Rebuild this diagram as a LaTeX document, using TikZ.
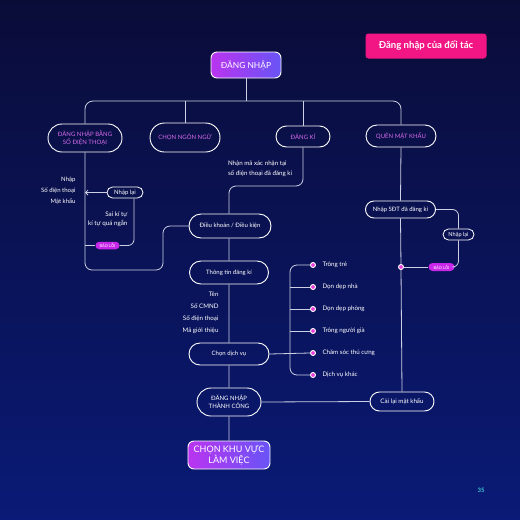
\documentclass[tikz,border=0pt]{standalone}
\usepackage{fontspec}
\setmainfont{Lato}
\usetikzlibrary{positioning,arrows.meta,shapes.misc}
\definecolor{bgtop}{RGB}{10,12,56}
\definecolor{bgbot}{RGB}{10,26,118}
\definecolor{linegray}{RGB}{205,208,228}
\definecolor{lilac}{RGB}{214,108,238}
\definecolor{gradl}{RGB}{186,52,240}
\definecolor{gradr}{RGB}{104,84,246}
\definecolor{tagpink}{RGB}{200,38,232}
\definecolor{dotpink}{RGB}{232,60,220}
\definecolor{titlepink}{RGB}{242,22,132}
\definecolor{pagecyan}{RGB}{60,200,210}

\begin{document}
\begin{tikzpicture}[
  x=1pt,y=-1pt,
  every node/.style={font=\fontsize{6.2}{7.5}\selectfont,text=white},
  link/.style={draw=linegray,line width=0.8pt},
  pill/.style={rounded rectangle,draw=white,line width=0.9pt,inner sep=1pt,align=center,
    font=\fontsize{6}{7.5}\selectfont},
  headbox/.style={pill,text=lilac,font=\fontsize{6}{7.4}\selectfont},
  gradbox/.style={rectangle,rounded corners=6pt,draw=white,line width=0.9pt,
    left color=gradl,right color=gradr,align=center},
  tag/.style={rounded rectangle,fill=tagpink,inner sep=0.5pt,font=\fontsize{4}{5}\selectfont},
  dot/.style={circle,draw=white,fill=dotpink,line width=0.9pt,inner sep=0pt,minimum size=5pt},
  note/.style={align=right}
]

% nen
\fill[top color=bgtop,bottom color=bgbot] (0,0) rectangle (520,520);
\useasboundingbox (0,0) rectangle (520,520);

% tieu de
\node[rectangle,rounded corners=3pt,fill=titlepink,minimum width=121pt,minimum height=25pt,
  font=\fontsize{9.6}{11}\bfseries] (title) at (426,46) {Đăng nhập của đối tác};
\node[text=pagecyan,font=\fontsize{6}{7}\bfseries] (page) at (481,490) {35};

% nhanh chinh
\node[gradbox,minimum width=70pt,minimum height=26pt,font=\fontsize{8.4}{10}\selectfont] (login) at (246,65) {ĐĂNG NHẬP};
\node[headbox,minimum width=76pt,minimum height=28pt] (sdt) at (85,138) {ĐĂNG NHẬP BẰNG\\SỐ ĐIỆN THOẠI};
\node[headbox,minimum width=72pt,minimum height=29pt] (ngon) at (185,137.5) {CHỌN NGÔN NGỮ};
\node[headbox,minimum width=56pt,minimum height=21pt] (dangki) at (303,136.5) {ĐĂNG KÍ};
\node[headbox,minimum width=72pt,minimum height=22pt] (quen) at (401,136) {QUÊN MẬT KHẨU};

\coordinate (bar) at (0,101);
\draw[link,rounded corners=8pt] (sdt.north) -- (sdt.north |- bar) -- (quen.north |- bar) -- (quen.north);
\foreach \n in {login.south,ngon.north,dangki.north}
  \draw[link] (\n) -- (\n |- bar);

% cot giua
\node[pill,minimum width=84pt,minimum height=24pt] (dieukhoan) at (230,226) {Điều khoản / Điều kiện};
\node[pill,minimum width=81pt,minimum height=23pt] (thongtin) at (229,272.5) {Thông tin đăng kí};
\node[pill,minimum width=82pt,minimum height=22pt] (chondv) at (229,354) {Chọn dịch vụ};
\node[pill,minimum width=66pt,minimum height=28pt] (thanhcong) at (229,402) {ĐĂNG NHẬP\\THÀNH CÔNG};
\node[gradbox,minimum width=82pt,minimum height=28pt,font=\fontsize{9}{11}\selectfont] (khuvuc) at (229,455) {CHỌN KHU VỰC\\LÀM VIỆC};

\draw[link] (dieukhoan.south -| thongtin) -- (thongtin) -- (chondv) -- (thanhcong) -- (khuvuc);

\coordinate (dk) at (229,186);
\draw[link,rounded corners=7pt] (dangki.south) |- (dk) -- (dk |- dieukhoan.north);
\node[anchor=north west,align=left,font=\fontsize{6.2}{10}\selectfont] (nhanma) at (224.5,157)
  {Nhận mã xác nhận tại\\số điện thoại đã đăng kí};

\node[note,anchor=north east,font=\fontsize{6.2}{12}\selectfont] (thongtinnote) at (222,289)
  {Tên\\Số CMND\\Số điện thoại\\Mã giới thiệu};

% cot trai
\coordinate (lbot) at (163,270);
\draw[link,rounded corners=7pt] (sdt.south) |- (lbot) |- (dieukhoan.west);
\node[note,anchor=north east,font=\fontsize{6}{11}\selectfont] (nhapnote) at (79,174)
  {Nhập\\Số điện thoại\\Mật khẩu};
\node[pill,minimum width=38pt,minimum height=11pt,line width=0.8pt,font=\fontsize{6}{7}\selectfont] (nhaplai) at (125,192.5) {Nhập lại};
\draw[link,-{Straight Barb[length=2.5pt,width=5pt]}] (nhaplai.west) -- (nhaplai.west -| sdt.south);
\node[tag,minimum width=25pt,minimum height=7.5pt] (baoloi) at (107.5,245.5) {BÁO LỖI};
\draw[link] (baoloi.west) -- (baoloi.west -| sdt.south);
\draw[link,rounded corners=6pt] (baoloi.east) -| ([xshift=9pt]nhaplai.south);
\node[note,anchor=north east,font=\fontsize{6.3}{9.5}\selectfont] (sainote) at (131,208)
  {Sai kí tự\\kí tự quá ngắn};

% dich vu
\coordinate (brk) at (290,0);
\foreach \y/\t [count=\i] in {265/Trông trẻ,287/Dọn dẹp nhà,309/Dọn dẹp phòng,
    331/Trông người già,353/Chăm sóc thú cưng,375/Dịch vụ khác}{
  \node[dot] (s\i) at (313,\y) {};
  \node[anchor=west] (t\i) at (319,\y) {\t};
}
\draw[link,rounded corners=7pt] (s1.west) -| (brk |- s6.west) -- (s6.west);
\foreach \i in {2,3,4}
  \draw[link] (s\i.west) -- (s\i.west -| brk);
\draw[link] (chondv.east) -- (s5.west);

% cot phai
\node[pill,minimum width=72pt,minimum height=17pt] (nhapsdt) at (400.5,209.5) {Nhập SĐT đã đăng kí};
\node[pill,minimum width=66pt,minimum height=19pt,font=\fontsize{6.2}{7.5}\selectfont] (caila) at (402,401.5) {Cài lại mật khẩu};
\node[pill,minimum width=33pt,minimum height=11pt,line width=0.8pt,font=\fontsize{5.6}{6.5}\selectfont] (nhaplai2) at (458.5,234.5) {Nhập lại};
\node[tag,minimum width=27pt,minimum height=8pt] (baoloi2) at (441.5,267) {BÁO LỖI};
\node[dot] (d0) at (401,267) {};

\draw[link] (quen.south) -- (nhapsdt.north);
\draw[link] (nhapsdt.south) -- (d0) -- (caila.north);
\draw[link,rounded corners=6pt] (nhapsdt.east) -| (nhaplai2.north);
\draw[link,rounded corners=6pt] (nhaplai2.south) |- (baoloi2.east);
\draw[link] (baoloi2.west) -- (d0);
\draw[link] (thanhcong.east) -- (caila.west);

\end{tikzpicture}
\end{document}
